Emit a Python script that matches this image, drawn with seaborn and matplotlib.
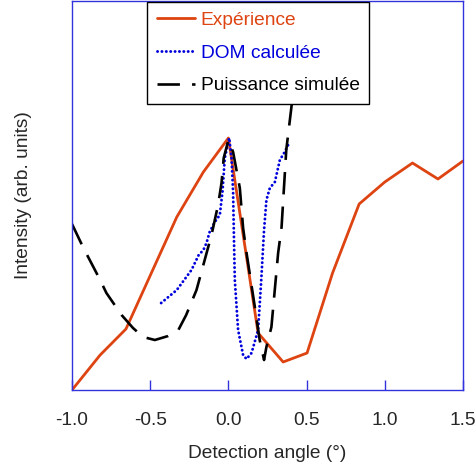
import matplotlib
matplotlib.use("Agg")
import matplotlib.pyplot as plt
import seaborn as sns
import pandas as pd

# Experimental curve
exp_x = [-1.0, -0.82, -0.655, -0.33, -0.16, 0.0, 0.19, 0.35, 0.503, 0.666, 0.836, 1.0, 1.177, 1.34, 1.5]
exp_y = [0, 35, 61, 173, 218, 252, 57, 28, 37, 117, 186, 208, 227, 211, 229]

# Calculated DOM curve
dom_x = [-0.43, -0.33, -0.236, -0.19, -0.16, -0.14, -0.12, -0.087, -0.055, -0.038, -0.023, 0.005,
         0.02, 0.03, 0.036, 0.041, 0.062, 0.094, 0.116, 0.148, 0.19, 0.21, 0.228,
         0.243, 0.265, 0.297, 0.329, 0.36, 0.382]
dom_y = [87, 100, 120, 135, 140, 147, 158, 168, 175, 198, 232, 252,
         232, 198, 148, 110, 60, 35, 31, 37, 60, 110, 160,
         190, 202, 208, 230, 238, 245]

# Simulated power curve
pow_x = [-1.0, -0.93, -0.82, -0.78, -0.683, -0.61, -0.545, -0.47, -0.385, -0.32, -0.27, -0.204,
         -0.108, -0.066, -0.044, -0.03, 0.0, 0.03, 0.073, 0.094, 0.116, 0.169, 0.2, 0.228,
         0.243, 0.275, 0.318, 0.34, 0.37, 0.403, 0.48]
pow_y = [166, 143, 110, 97, 75, 62, 53, 50, 54, 60, 75, 100,
         155, 185, 207, 232, 250, 238, 202, 162, 137, 83, 50, 30,
         43, 63, 137, 163, 240, 283, 400]

labels = ["Expérience", "DOM calculée", "Puissance simulée"]
xticks = [-1.0, -0.5, 0.0, 0.5, 1.0, 1.5]

sns.set_theme(style="white")
plt.rcParams['font.family'] = ['Liberation Sans', 'DejaVu Sans']
plt.rcParams['axes.unicode_minus'] = False

fig = plt.figure(figsize=(4.75, 4.68), dpi=100)
ax = fig.add_axes([72/475, 1-390/468, 391/475, 389/468])

orange = '#DD4411'
blue = '#0000DD'
fs = 13.8

df_exp = pd.DataFrame({'x': exp_x, 'y': exp_y})
df_dom = pd.DataFrame({'x': dom_x, 'y': dom_y})
df_pow = pd.DataFrame({'x': pow_x, 'y': pow_y})

sns.lineplot(data=df_exp, x='x', y='y', ax=ax, color=orange, lw=2.0, sort=False,
             label=labels[0])
sns.lineplot(data=df_dom, x='x', y='y', ax=ax, color=blue, lw=2.1, sort=False,
             label=labels[1])
sns.lineplot(data=df_pow, x='x', y='y', ax=ax, color='black', lw=1.9, sort=False,
             label=labels[2])
lines = ax.get_lines()
lines[0].set_solid_joinstyle('round')
lines[1].set_linestyle((0, (0.05, 1.45)))
lines[1].set_dash_capstyle('round')
lines[2].set_linestyle((0, (8.5, 4.6)))
lines[2].set_dash_joinstyle('round')

ax.set_xlim(-1.0, 1.5)
ax.set_ylim(0, 389)
ax.set_xticks(xticks)
ax.set_xticklabels([f"{t:.1f}" for t in xticks], fontsize=fs)
ax.set_yticks([])
ax.tick_params(axis='x', direction='in', length=7, width=1, color='#3333DD',
               pad=16, bottom=True)
for s in ax.spines.values():
    s.set_color('#3333DD')
    s.set_linewidth(1.0)
ax.set_xlabel("Detection angle (°)", fontsize=fs, labelpad=11)
ax.set_ylabel("Intensity (arb. units)", fontsize=fs, labelpad=29)

leg = ax.legend(loc='upper left', bbox_to_anchor=(0.192, 0.998), fontsize=fs,
                frameon=True, fancybox=False, edgecolor='black', framealpha=1,
                handlelength=2.0, labelspacing=0.8, borderpad=0.5,
                handletextpad=0.3, borderaxespad=0)
leg.get_frame().set_linewidth(1.0)
for t, c in zip(leg.get_texts(), [orange, blue, 'black']):
    t.set_color(c)

fig.savefig("out.png", dpi=100)
